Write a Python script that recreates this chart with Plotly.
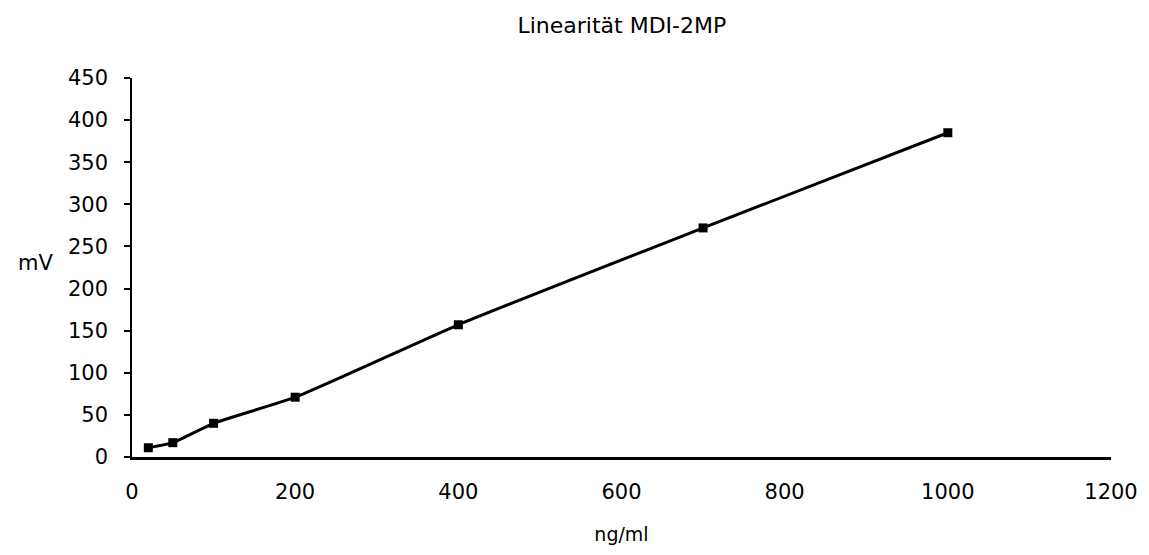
import plotly.graph_objects as go

conc = [20, 50, 100, 200, 400, 700, 1000]
mv = [11, 17, 40, 71, 157, 272, 385]
x_ticks = [0, 200, 400, 600, 800, 1000, 1200]
y_ticks = [0, 50, 100, 150, 200, 250, 300, 350, 400, 450]

FONT = "DejaVu Sans"

fig = go.Figure()
fig.add_trace(go.Scatter(
    x=conc, y=mv, mode="lines+markers",
    line=dict(color="black", width=3, shape="spline", smoothing=0.5),
    marker=dict(symbol="square", size=9, color="black"),
    showlegend=False,
))

fig.update_layout(
    width=1141, height=547,
    margin=dict(l=124, r=38, t=70, b=98, autoexpand=False),
    paper_bgcolor="white", plot_bgcolor="white",
    font=dict(family=FONT, color="black", size=20),
    title=dict(text="Linearität MDI-2MP", x=0.538, xanchor="center", y=0.969, yanchor="middle",
               font=dict(size=22, family=FONT)),
    xaxis=dict(range=[0, 1200], tickvals=x_ticks, ticktext=[str(v) for v in x_ticks],
               showgrid=False, zeroline=False, showline=True, linecolor="black", linewidth=2.5,
               ticks="", ticklabelstandoff=14, tickfont=dict(size=21),
               title=dict(text="ng/ml", font=dict(size=19), standoff=25)),
    yaxis=dict(range=[0, 450], tickvals=y_ticks, ticktext=[str(v) for v in y_ticks],
               showgrid=False, zeroline=False, showline=True, linecolor="black", linewidth=1.5,
               ticks="outside", ticklen=6, tickwidth=1.5, tickcolor="black", ticklabelstandoff=12,
               tickfont=dict(size=21), title=dict(text="")),
    annotations=[dict(text="mV", xref="paper", yref="paper", x=-0.118, y=0.512,
                      xanchor="left", yanchor="middle", showarrow=False, font=dict(size=21))],
)

fig.write_html("out.html")
